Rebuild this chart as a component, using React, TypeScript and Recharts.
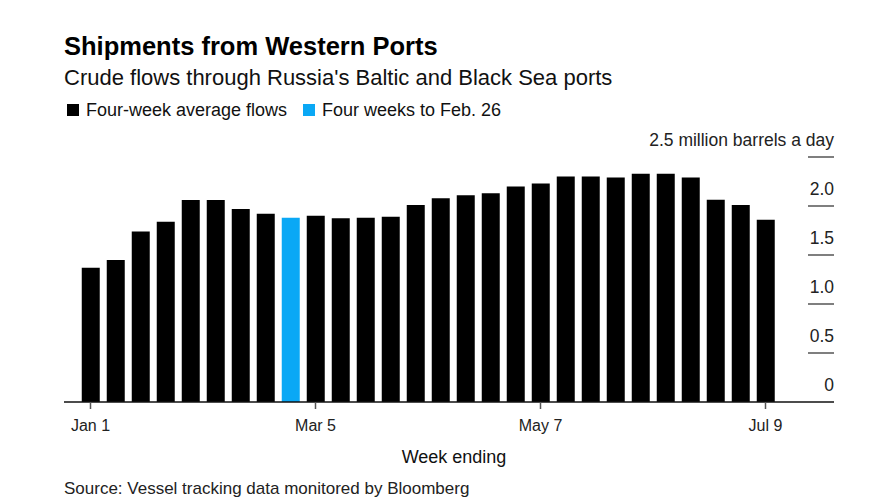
import { Bar, BarChart, Cell, XAxis, YAxis } from "recharts";

const weeks = [
  "Jan 1", "Jan 8", "Jan 15", "Jan 22", "Jan 29",
  "Feb 5", "Feb 12", "Feb 19", "Feb 26",
  "Mar 5", "Mar 12", "Mar 19", "Mar 26",
  "Apr 2", "Apr 9", "Apr 16", "Apr 23", "Apr 30",
  "May 7", "May 14", "May 21", "May 28",
  "Jun 4", "Jun 11", "Jun 18", "Jun 25",
  "Jul 2", "Jul 9",
];

// million barrels a day, four-week average
const flows = [
  1.37, 1.45, 1.74, 1.84, 2.06, 2.06, 1.97, 1.92, 1.88,
  1.9, 1.875, 1.88, 1.89, 2.01, 2.08, 2.11, 2.13, 2.2,
  2.23, 2.3, 2.3, 2.29, 2.33, 2.33, 2.29, 2.065, 2.01, 1.86,
];

const highlightWeek = "Feb 26";
const yTicks = [0, 0.5, 1, 1.5, 2, 2.5];

const data = weeks.map((week, i) => ({ week, flow: flows[i] }));

const FONT = '"Liberation Sans", Arial, Helvetica, sans-serif';
const BLACK = "#000000";
const BLUE = "#0aa8f5";

function YTick(props: any) {
  const { x, y, payload } = props;
  const v = payload.value as number;
  const label = v === 2.5 ? "2.5 million barrels a day" : v === 0 ? "0" : v.toFixed(1);
  return (
    <g>
      {v !== 0 && <line x1={x - 26} x2={x} y1={y} y2={y} stroke="#555" strokeWidth={1.5} />}
      <text x={x} y={y - 11} textAnchor="end" fontSize={17.5} fill="#222" fontFamily={FONT}>
        {label}
      </text>
    </g>
  );
}

export default function App() {
  return (
    <div style={{ position: "absolute", left: 0, top: 0, width: 879, height: 500, background: "#fff" }}>
      <BarChart
        width={879}
        height={500}
        data={data}
        margin={{ top: 157, right: 25, bottom: 68, left: 64 }}
        barCategoryGap="15%"
      >
        <XAxis
          dataKey="week"
          interval={8}
          padding={{ left: 14, right: 56 }}
          axisLine={{ stroke: "#111", strokeWidth: 1.5 }}
          tickLine={{ stroke: "#555", strokeWidth: 1.5 }}
          tickSize={7}
          tickMargin={11}
          height={30}
          tick={{ fontSize: 16, fill: "#222", fontFamily: FONT }}
        />
        <YAxis
          orientation="right"
          domain={[0, 2.5]}
          ticks={yTicks}
          width={20}
          axisLine={false}
          tickLine={false}
          tickSize={0}
          tickMargin={0}
          tick={<YTick />}
        />
        <Bar dataKey="flow" isAnimationActive={false}>
          {data.map((d) => (
            <Cell key={d.week} fill={d.week === highlightWeek ? BLUE : BLACK} />
          ))}
        </Bar>
      </BarChart>
      <svg
        width={879}
        height={500}
        style={{ position: "absolute", left: 0, top: 0, pointerEvents: "none" }}
        fontFamily={FONT}
      >
        <text x={64} y={55} fontSize={25.5} fontWeight="bold" fill="#000">
          Shipments from Western Ports
        </text>
        <text x={64} y={85} fontSize={22} fill="#111">
          Crude flows through Russia's Baltic and Black Sea ports
        </text>
        <rect x={67} y={104} width={12} height={12} fill={BLACK} />
        <text x={86} y={115.5} fontSize={18} fill="#111">
          Four-week average flows
        </text>
        <rect x={303} y={104} width={12} height={12} fill={BLUE} />
        <text x={322} y={115.5} fontSize={18} fill="#111">
          Four weeks to Feb. 26
        </text>
        <text x={454} y={463} fontSize={18} textAnchor="middle" fill="#111">
          Week ending
        </text>
        <text x={64} y={493.5} fontSize={17} fill="#222">
          Source: Vessel tracking data monitored by Bloomberg
        </text>
      </svg>
    </div>
  );
}
